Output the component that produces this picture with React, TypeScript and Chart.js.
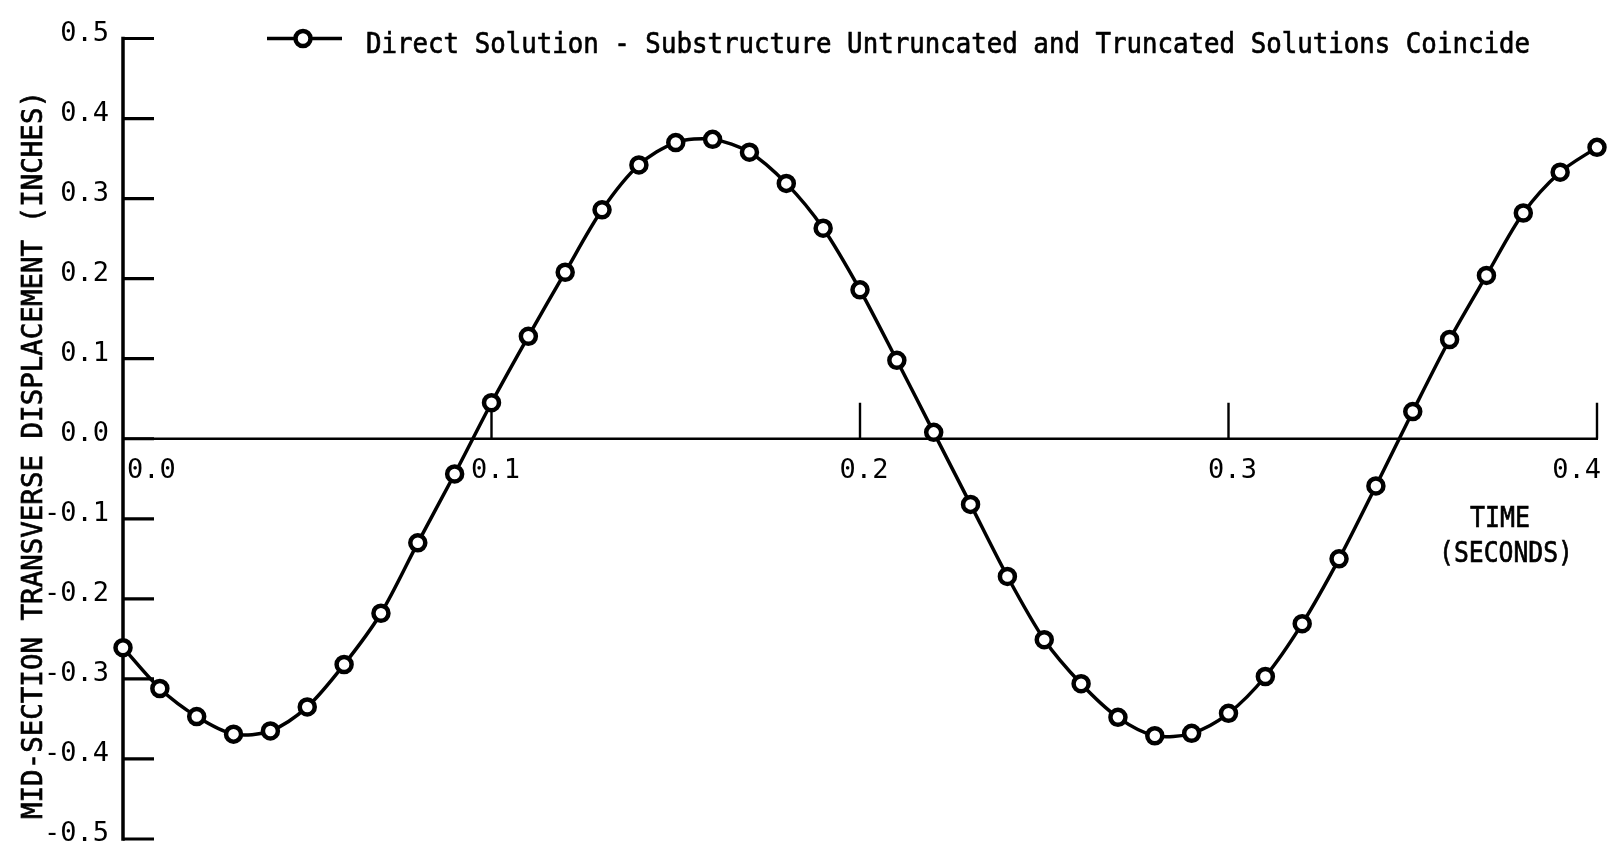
import React, { useEffect, useRef } from "react";
import { Chart, registerables } from "chart.js";

Chart.register(...registerables);

// Sample times (seconds) and mid-section transverse displacement (inches)
const TIME_S = [
  0.0, 0.01, 0.02, 0.03, 0.04, 0.05, 0.06, 0.07, 0.08, 0.09,
  0.1, 0.11, 0.12, 0.13, 0.14, 0.15, 0.16, 0.17, 0.18, 0.19,
  0.2, 0.21, 0.22, 0.23, 0.24, 0.25, 0.26, 0.27, 0.28, 0.29,
  0.3, 0.31, 0.32, 0.33, 0.34, 0.35, 0.36, 0.37, 0.38, 0.39,
  0.4,
];

const DISPLACEMENT_IN = [
  -0.261, -0.312, -0.347, -0.369, -0.365, -0.335, -0.282, -0.218, -0.13, -0.044,
  0.045, 0.128, 0.208, 0.286, 0.342, 0.37, 0.374, 0.358, 0.319, 0.263,
  0.186, 0.098, 0.008, -0.082, -0.172, -0.251, -0.306, -0.348, -0.371, -0.368,
  -0.343, -0.297, -0.231, -0.15, -0.059, 0.034, 0.124, 0.204, 0.282, 0.333,
  0.364,
];

const X_MIN = 0;
const X_MAX = 0.4;
const Y_MIN = -0.5;
const Y_MAX = 0.5;
const TICK_STEP = 0.1;

const SERIES_LABEL =
  "Direct Solution - Substructure Untruncated and Truncated Solutions Coincide";
const Y_TITLE = "MID-SECTION TRANSVERSE DISPLACEMENT (INCHES)";
const X_TITLE_LINES = ["TIME", "(SECONDS)"];

const INK = "#000000";
const FONT = "'DejaVu Sans Mono', 'Liberation Mono', monospace";
const TICK_FONT_SIZE = 27;
const TEXT_FONT_SIZE = 29;

const fmt = (v: number) => (Math.abs(v) < 1e-9 ? "0.0" : Number(v).toFixed(1));

// Draws text horizontally squeezed so the run of characters spans `width` px
function drawFitted(
  ctx: CanvasRenderingContext2D,
  text: string,
  x: number,
  y: number,
  width: number,
  align: CanvasTextAlign,
  rotate = 0
) {
  ctx.save();
  ctx.font = `${TEXT_FONT_SIZE}px ${FONT}`;
  const w = ctx.measureText(text).width;
  ctx.translate(x, y);
  if (rotate) ctx.rotate(rotate);
  ctx.scale(width / w, 1);
  ctx.textAlign = align;
  ctx.textBaseline = "alphabetic";
  ctx.fillStyle = INK;
  ctx.strokeStyle = INK;
  ctx.lineWidth = 0.7;
  ctx.fillText(text, 0, 0);
  ctx.strokeText(text, 0, 0);
  ctx.restore();
}

// Axis lines through the origin with inward tick marks, plus the key and titles
const axisFramePlugin = {
  id: "axisFrame",
  beforeDatasetsDraw(chart: any) {
    const { ctx } = chart;
    const xs = chart.scales.x;
    const ys = chart.scales.y;
    const x0 = xs.getPixelForValue(0);
    const y0 = ys.getPixelForValue(0);

    ctx.save();
    ctx.strokeStyle = INK;
    ctx.lineCap = "butt";

    // vertical axis
    ctx.lineWidth = 3.5;
    ctx.beginPath();
    ctx.moveTo(x0, ys.getPixelForValue(Y_MAX) - 1.75);
    ctx.lineTo(x0, ys.getPixelForValue(Y_MIN) + 1.75);
    ctx.stroke();

    // y tick marks pointing into the plot
    ctx.lineWidth = 3.2;
    ctx.beginPath();
    ys.ticks.forEach((t: any) => {
      const py = ys.getPixelForValue(t.value);
      ctx.moveTo(x0, py);
      ctx.lineTo(x0 + 31, py);
    });
    ctx.stroke();

    // horizontal axis along zero displacement
    ctx.lineWidth = 2.6;
    ctx.beginPath();
    ctx.moveTo(x0, y0);
    ctx.lineTo(xs.getPixelForValue(X_MAX) + 1, y0);
    ctx.stroke();

    // x tick marks pointing upward
    ctx.lineWidth = 2.4;
    ctx.beginPath();
    xs.ticks.forEach((t: any) => {
      if (t.value <= X_MIN + 1e-9) return;
      const px = xs.getPixelForValue(t.value);
      ctx.moveTo(px, y0);
      ctx.lineTo(px, y0 - 36);
    });
    ctx.stroke();
    ctx.restore();
  },
  afterDraw(chart: any) {
    const { ctx } = chart;

    // key: line segment with an open marker
    ctx.save();
    ctx.strokeStyle = INK;
    ctx.lineWidth = 3.5;
    ctx.beginPath();
    ctx.moveTo(267, 38.5);
    ctx.lineTo(342, 38.5);
    ctx.stroke();
    ctx.beginPath();
    ctx.arc(303, 38.5, 7.5, 0, Math.PI * 2);
    ctx.fillStyle = "#ffffff";
    ctx.fill();
    ctx.lineWidth = 4.5;
    ctx.stroke();
    ctx.restore();
    drawFitted(ctx, SERIES_LABEL, 366, 53, 1164, "left");

    // vertical axis title
    drawFitted(ctx, Y_TITLE, 41.5, 455, 728, "center", -Math.PI / 2);

    // horizontal axis title
    drawFitted(ctx, X_TITLE_LINES[0], 1500, 527, 60, "center");
    drawFitted(ctx, X_TITLE_LINES[1], 1506, 562, 134, "center");
  },
};

export default function App() {
  const canvasRef = useRef<HTMLCanvasElement | null>(null);

  useEffect(() => {
    const canvas = canvasRef.current;
    if (!canvas) return;

    const chart = new Chart(canvas, {
      type: "line",
      data: {
        datasets: [
          {
            label: SERIES_LABEL,
            data: TIME_S.map((t, i) => ({ x: t, y: DISPLACEMENT_IN[i] })),
            borderColor: INK,
            borderWidth: 3.5,
            tension: 0.3,
            pointRadius: 7.5,
            pointBorderWidth: 4.5,
            pointBackgroundColor: "#ffffff",
            pointBorderColor: INK,
            clip: false as any,
          },
        ],
      },
      options: {
        responsive: false,
        animation: false,
        events: [],
        layout: { padding: { left: 0, right: 24, top: 38.5, bottom: 16 } },
        plugins: {
          legend: { display: false },
          tooltip: { enabled: false },
        },
        scales: {
          x: {
            type: "linear",
            position: { y: 0 } as any,
            min: X_MIN,
            max: X_MAX,
            border: { display: false },
            grid: { display: false, drawTicks: false },
            ticks: {
              stepSize: TICK_STEP,
              align: "inner",
              padding: 16,
              labelOffset: 4,
              color: INK,
              maxRotation: 0,
              autoSkip: false,
              font: { family: FONT, size: TICK_FONT_SIZE },
              callback: (v: any) => fmt(Number(v)),
            },
          },
          y: {
            type: "linear",
            position: "left",
            min: Y_MIN,
            max: Y_MAX,
            border: { display: false },
            grid: { display: false, drawTicks: false },
            ticks: {
              stepSize: TICK_STEP,
              padding: 14,
              labelOffset: -5,
              color: INK,
              autoSkip: false,
              font: { family: FONT, size: TICK_FONT_SIZE },
              callback: (v: any) => fmt(Number(v)),
            },
            afterFit: (scale: any) => {
              // fixed gutter; the plot margins come from layout.padding alone
              scale.width = 123;
              scale.paddingTop = 0;
              scale.paddingBottom = 0;
            },
          },
        },
      },
      plugins: [axisFramePlugin],
    });

    return () => chart.destroy();
  }, []);

  return (
    <div style={{ position: "fixed", left: 0, top: 0, width: 1621, height: 855, background: "#ffffff" }}>
      <canvas ref={canvasRef} width={1621} height={855} style={{ display: "block" }} />
    </div>
  );
}
